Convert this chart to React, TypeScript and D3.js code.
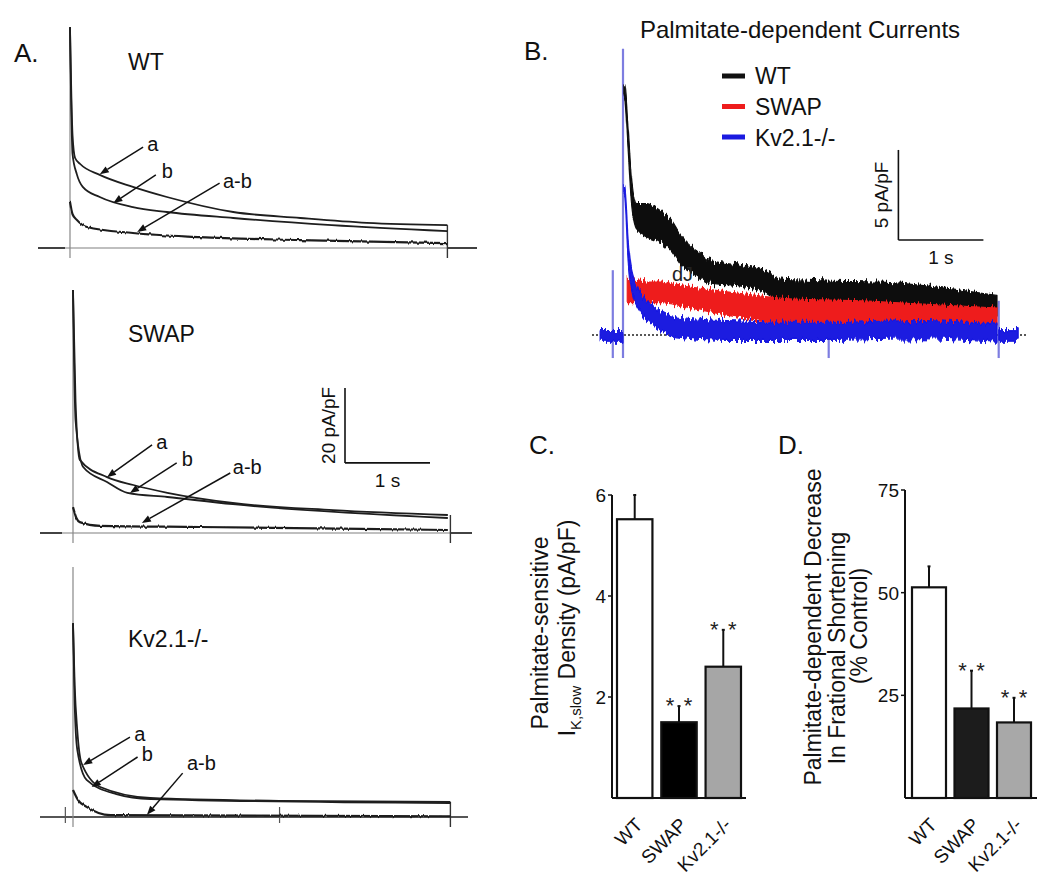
import React from 'react';
import * as d3 from 'd3';

const FONT = '"Liberation Sans", Arial, Helvetica, sans-serif';

// ---------- Panel A data: [time (s), current density (pA/pF)] ----------
const wtTraceA = [[0, 58.9], [0.03, 30], [0.06, 24], [0.12, 22.4], [0.35, 19.5], [0.74, 16.3], [1.14, 13.6], [1.92, 9.6], [2.71, 8.0], [3.49, 6.7], [4.44, 6.1]];
const wtTraceB = [[0, 58.9], [0.03, 25], [0.08, 19.7], [0.15, 16.3], [0.35, 13.6], [0.74, 10.9], [1.14, 9.6], [1.92, 8.0], [3.08, 6.1], [4.44, 4.5]];
const wtTraceAB = [[0, 12.3], [0.03, 9], [0.08, 7.5], [0.2, 5.6], [0.74, 4.0], [1.53, 2.9], [2.71, 2.1], [4.44, 1.3]];

const swapTraceA = [[0, 64.8], [0.03, 35], [0.08, 19.5], [0.4, 14.9], [0.71, 12.8], [1.11, 10.7], [1.88, 8.0], [3.06, 6.1], [4.41, 4.8]];
const swapTraceB = [[0, 64.8], [0.03, 30], [0.12, 17.6], [0.4, 13.6], [0.64, 10.7], [1.11, 9.6], [1.88, 7.7], [4.41, 4.0]];
const swapTraceAB = [[0, 6.9], [0.04, 4], [0.08, 2.9], [0.32, 1.9], [1.49, 1.6], [4.41, 0.8]];

const kvTraceA = [[0, 51.7], [0.02, 35], [0.05, 23.2], [0.1, 14.4], [0.32, 8.0], [0.91, 5.1], [2.45, 4.3], [4.44, 4.0]];
const kvTraceB = [[0, 51.7], [0.02, 30], [0.05, 18], [0.16, 9.9], [0.51, 6.1], [0.91, 4.8], [4.44, 3.7]];
const kvTraceAB = [[0, 7.2], [0.06, 4.5], [0.16, 2.7], [0.44, 0.5], [4.44, 0.2]];

// arrow annotations: text, tail [t, v], tip [t, v], label [t, v]
const wtArrows = [
  { text: 'a', tail: [0.86, 26.9], tip: [0.35, 19.7], label: [0.91, 25.9] },
  { text: 'b', tail: [1.01, 19.5], tip: [0.51, 12.0], label: [1.08, 18.6] },
  { text: 'a-b', tail: [1.76, 17.3], tip: [0.79, 4.3], label: [1.80, 16.0] },
];
const swapArrows = [
  { text: 'a', tail: [0.93, 23.5], tip: [0.4, 14.9], label: [0.98, 22.4] },
  { text: 'b', tail: [1.22, 18.7], tip: [0.67, 10.7], label: [1.28, 17.8] },
  { text: 'a-b', tail: [1.85, 16.0], tip: [0.81, 2.7], label: [1.88, 15.7] },
];
const kvArrows = [
  { text: 'a', tail: [0.67, 21.3], tip: [0.12, 13.9], label: [0.72, 20.3] },
  { text: 'b', tail: [0.76, 16.0], tip: [0.22, 8.0], label: [0.81, 15.0] },
  { text: 'a-b', tail: [1.29, 11.7], tip: [0.87, 0.6], label: [1.34, 12.5] },
];

// ---------- Panel B data: [time (s), lower, upper] (pA/pF) ----------
const bWT = [[0.01, 13.4, 13.9], [0.02, 13.2, 13.9], [0.06, 10.3, 11.5], [0.10, 7.3, 8.7], [0.16, 5.9, 7.3], [0.28, 5.5, 7.3], [0.44, 5.2, 6.9], [0.56, 4.7, 6.4], [0.68, 3.9, 5.5], [0.86, 3.3, 4.7], [1.02, 2.9, 4.2], [1.41, 2.7, 3.9], [1.65, 2.4, 3.6], [1.85, 1.9, 3.1], [2.40, 1.7, 3.0], [3.18, 1.5, 2.9], [3.96, 1.2, 2.5], [4.40, 1.0, 2.2]];
const bSWAP = [[0.05, 1.8, 3.2], [0.28, 1.8, 3.0], [0.45, 1.8, 3.0], [0.6, 1.7, 2.8], [0.9, 1.4, 2.6], [1.22, 1.1, 2.4], [2.0, 0.7, 2.0], [2.79, 0.7, 1.9], [3.58, 0.6, 1.7], [4.40, 0.5, 1.5]];
const bKV = [[0.01, 7.9, 8.3], [0.02, 7.8, 8.3], [0.06, 4.2, 5.3], [0.10, 2.5, 3.6], [0.2, 1.3, 2.4], [0.36, 0.5, 1.6], [0.63, -0.1, 1.0], [1.22, -0.3, 0.8], [2.4, -0.3, 0.7], [3.5, -0.2, 0.8], [4.40, -0.4, 0.6]];
const bKVpre = [[-0.27, -0.35, 0.25], [0.0, -0.35, 0.25]];
const bKVpost = [[4.42, -0.35, 0.3], [4.65, -0.35, 0.3]];
const bMarkers = [[-0.12, 3.6], [0, 15.9], [2.42, -0.1], [4.42, 1.9]]; // [t, top v]
const bLegend = ['WT', 'SWAP', 'Kv2.1-/-'];
const bColors = ['#111111', '#ee1c1c', '#1a1ae0'];

// ---------- Panels C and D ----------
const barCategories = ['WT', 'SWAP', 'Kv2.1-/-'];
const cValues = [5.52, 1.5, 2.6];
const cErrors = [0.48, 0.32, 0.73];
const cTicks = [2, 4, 6];
const dValues = [51.3, 21.8, 18.4];
const dErrors = [5.1, 9.2, 6.0];
const dTicks = [25, 50, 75];
const cSig = [false, true, true];
const dSig = [false, true, true];

type APanelCfg = {
  name: string; x0: number; base: number; axisTop: number; baseL: number; baseR: number;
  darkL: number; darkR: number; nameX: number; nameY: number;
  traces: number[][][]; arrows: any[]; extraTicks: number[];
};

const aPanels: APanelCfg[] = [
  { name: 'WT', x0: 70, base: 248, axisTop: 27, baseL: 38, baseR: 477, darkL: 65, darkR: 447, nameX: 128, nameY: 70, traces: [wtTraceA, wtTraceB, wtTraceAB], arrows: wtArrows, extraTicks: [] },
  { name: 'SWAP', x0: 73, base: 533, axisTop: 290, baseL: 40, baseR: 472, darkL: 62, darkR: 450, nameX: 128, nameY: 342, traces: [swapTraceA, swapTraceB, swapTraceAB], arrows: swapArrows, extraTicks: [] },
  { name: 'Kv2.1-/-', x0: 73, base: 817, axisTop: 567, baseL: 40, baseR: 468, darkL: 40, darkR: 468, nameX: 128, nameY: 647, traces: [kvTraceA, kvTraceB, kvTraceAB], arrows: kvArrows, extraTicks: [-0.09, 2.43] },
];

const A_DUR = 4.44;

function PanelA({ cfg, showScale }: { cfg: APanelCfg; showScale: boolean }) {
  const x = d3.scaleLinear().domain([0, 1]).range([cfg.x0, cfg.x0 + 85]);
  const y = d3.scaleLinear().domain([0, 20]).range([cfg.base, cfg.base - 75]);
  const line = d3.line<number[]>().x(d => x(d[0])).y(d => y(d[1])).curve(d3.curveMonotoneX);
  const endTop = d3.max(cfg.traces, t => t[t.length - 1][1]) as number;
  return (
    <g>
      <line x1={cfg.baseL} x2={cfg.baseR} y1={y(0)} y2={y(0)} stroke="#aaa" strokeWidth={1.3} />
      {cfg.darkL > cfg.baseL && <line x1={cfg.baseL} x2={cfg.darkL} y1={y(0)} y2={y(0)} stroke="#222" strokeWidth={1.6} />}
      {cfg.darkR < cfg.baseR && <line x1={cfg.darkR} x2={cfg.baseR} y1={y(0)} y2={y(0)} stroke="#222" strokeWidth={1.6} />}
      {cfg.darkL === cfg.baseL && <line x1={cfg.baseL} x2={cfg.baseR} y1={y(0)} y2={y(0)} stroke="#333" strokeWidth={1.6} />}
      <line x1={x(0)} x2={x(0)} y1={cfg.axisTop} y2={y(0) + 10} stroke="#888" strokeWidth={1.2} />
      {cfg.extraTicks.map((t, i) => (
        <line key={i} x1={x(t)} x2={x(t)} y1={y(0) - 10} y2={y(0) + 6} stroke="#555" strokeWidth={1.2} />
      ))}
      <line x1={x(A_DUR)} x2={x(A_DUR)} y1={y(endTop)} y2={y(0) + 10} stroke="#333" strokeWidth={1.4} />
      {cfg.traces.map((t, i) => (
        <path key={i} d={line(t as any) || ''} fill="none" stroke="#1e1e1e" strokeWidth={i === 2 ? 2.2 : 1.8}
          filter={i === 2 ? 'url(#fineNoise)' : undefined} />
      ))}
      {cfg.arrows.map((a, i) => {
        const x1 = x(a.tail[0]), y1 = y(a.tail[1]), x2 = x(a.tip[0]), y2 = y(a.tip[1]);
        const ang = Math.atan2(y2 - y1, x2 - x1);
        const L = 9, Wd = 3.5;
        const bx = x2 - L * Math.cos(ang), by = y2 - L * Math.sin(ang);
        const p = `M${x2},${y2} L${bx + Wd * Math.sin(ang)},${by - Wd * Math.cos(ang)} L${bx - Wd * Math.sin(ang)},${by + Wd * Math.cos(ang)} Z`;
        return (
          <g key={i}>
            <line x1={x1} y1={y1} x2={bx} y2={by} stroke="#111" strokeWidth={1.5} />
            <path d={p} fill="#111" />
            <text x={x(a.label[0])} y={y(a.label[1])} fontSize={20} fill="#111">{a.text}</text>
          </g>
        );
      })}
      <text x={cfg.nameX} y={cfg.nameY} fontSize={23} fill="#111">{cfg.name}</text>
      {showScale && (
        <g>
          <line x1={x(3.2)} x2={x(3.2)} y1={y(18.7)} y2={y(38.7)} stroke="#111" strokeWidth={1.6} />
          <line x1={x(3.2)} x2={x(4.2)} y1={y(18.7)} y2={y(18.7)} stroke="#111" strokeWidth={1.6} />
          <text transform={`translate(${x(3.2) - 10},${y(28.7)}) rotate(-90)`} textAnchor="middle" fontSize={19} fill="#111">20 pA/pF</text>
          <text x={x(3.7)} y={y(18.7) + 24} textAnchor="middle" fontSize={19} fill="#111">1 s</text>
        </g>
      )}
    </g>
  );
}

function PanelB() {
  const x = d3.scaleLinear().domain([0, 1]).range([623, 708]);
  const y = d3.scaleLinear().domain([0, 5]).range([335, 245]);
  const area = d3.area<number[]>().x(d => x(d[0])).y0(d => y(d[1])).y1(d => y(d[2])).curve(d3.curveMonotoneX);
  const series = [bWT, bSWAP, bKV];
  return (
    <g>
      <text x={800} y={38} textAnchor="middle" fontSize={24} fill="#111">Palmitate-dependent Currents</text>
      <line x1={592} x2={1028} y1={y(0)} y2={y(0)} stroke="#222" strokeWidth={1.3} strokeDasharray="2,2" />
      {bMarkers.map((m, i) => (
        <line key={i} x1={x(m[0])} x2={x(m[0])} y1={y(m[1])} y2={y(-1.28)} stroke="#7d7de0" strokeWidth={2.2} />
      ))}
      {series.map((s, i) => (
        <path key={i} d={area(s as any) || ''} fill={bColors[i]} stroke={bColors[i]} strokeWidth={1.2}
          strokeLinejoin="round" filter="url(#traceNoise)" />
      ))}
      <path d={area(bKVpre as any) || ''} fill={bColors[2]} stroke={bColors[2]} strokeWidth={1} filter="url(#traceNoise)" />
      <path d={area(bKVpost as any) || ''} fill={bColors[2]} stroke={bColors[2]} strokeWidth={1} filter="url(#traceNoise)" />
      <text x={672} y={281} fontSize={20} fill="#222">dJ</text>
      {bLegend.map((l, i) => (
        <g key={l}>
          <line x1={722} x2={745} y1={76 + i * 30.5} y2={76 + i * 30.5} stroke={bColors[i]} strokeWidth={5} />
          <text x={755} y={84 + i * 31} fontSize={23} fill="#111">{l}</text>
        </g>
      ))}
      <line x1={x(3.24)} x2={x(3.24)} y1={y(5.28)} y2={y(10.28)} stroke="#111" strokeWidth={1.6} />
      <line x1={x(3.24)} x2={x(4.24)} y1={y(5.28)} y2={y(5.28)} stroke="#111" strokeWidth={1.6} />
      <text transform={`translate(${x(3.24) - 10},${y(7.78)}) rotate(-90)`} textAnchor="middle" fontSize={19} fill="#111">5 pA/pF</text>
      <text x={x(3.74)} y={y(5.28) + 24} textAnchor="middle" fontSize={19} fill="#111">1 s</text>
    </g>
  );
}

type BarCfg = {
  values: number[]; errors: number[]; ticks: number[]; sig: boolean[]; domainMax: number;
  yTop: number; yBottom: number; axisX: number; xL: number; xR: number; axisEnd: number;
  fills: string[];
};

function BarPanel({ cfg }: { cfg: BarCfg }) {
  const y = d3.scaleLinear().domain([0, cfg.domainMax]).range([cfg.yBottom, cfg.yTop]);
  const xb = d3.scaleBand().domain(barCategories).range([cfg.xL, cfg.xR]).paddingInner(0.2).paddingOuter(0);
  const bw = xb.bandwidth();
  return (
    <g>
      {barCategories.map((c, i) => {
        const cx = (xb(c) as number) + bw / 2;
        const top = y(cfg.values[i]);
        const et = y(cfg.values[i] + cfg.errors[i]);
        return (
          <g key={c}>
            <line x1={cx} x2={cx} y1={top} y2={et} stroke="#111" strokeWidth={2} />
            <line x1={cx - 1.5} x2={cx + 1.5} y1={et} y2={et} stroke="#111" strokeWidth={2} />
            <rect x={xb(c)} y={top} width={bw} height={y(0) - top} fill={cfg.fills[i]} stroke="#111" strokeWidth={2.2} />
            {cfg.sig[i] && (
              <g>
                <text x={cx - 9} y={et + 7} textAnchor="middle" fontSize={22} fill="#222">*</text>
                <text x={cx + 9} y={et + 7} textAnchor="middle" fontSize={22} fill="#222">*</text>
              </g>
            )}
            <text transform={`translate(${cx + 9},${cfg.yBottom + 28}) rotate(-45)`} textAnchor="end" fontSize={19} fill="#111">{c}</text>
          </g>
        );
      })}
      <line x1={cfg.axisX} x2={cfg.axisX} y1={y(cfg.domainMax)} y2={y(0)} stroke="#111" strokeWidth={2} />
      <line x1={cfg.axisX} x2={cfg.axisEnd} y1={y(0)} y2={y(0)} stroke="#111" strokeWidth={2} />
      {cfg.ticks.map(t => (
        <g key={t}>
          <line x1={cfg.axisX - 4} x2={cfg.axisX} y1={y(t)} y2={y(t)} stroke="#111" strokeWidth={1.5} />
          <text x={cfg.axisX - 6} y={y(t) + 7} textAnchor="end" fontSize={19} fill="#111">{t}</text>
        </g>
      ))}
    </g>
  );
}

const cCfg: BarCfg = {
  values: cValues, errors: cErrors, ticks: cTicks, sig: cSig, domainMax: 6,
  yTop: 495, yBottom: 798, axisX: 612, xL: 617, xR: 741, axisEnd: 746,
  fills: ['#ffffff', '#000000', '#a6a6a6'],
};
const dCfg: BarCfg = {
  values: dValues, errors: dErrors, ticks: dTicks, sig: dSig, domainMax: 75,
  yTop: 490, yBottom: 798, axisX: 905, xL: 912, xR: 1031, axisEnd: 1037,
  fills: ['#ffffff', '#1c1c1c', '#a8a8a8'],
};

export default function App() {
  return (
    <svg width={1050} height={876} style={{ position: 'absolute', left: 0, top: 0, background: '#fff' }} fontFamily={FONT}>
      <defs>
        <filter id="traceNoise" x="-5%" y="-40%" width="110%" height="180%">
          <feTurbulence type="fractalNoise" baseFrequency="0.5 0.01" numOctaves={2} seed={4} result="n" />
          <feColorMatrix in="n" type="matrix" values="0 0 0 0 0.5  0 1 0 0 0  0 0 0 0 0  0 0 0 0 1" result="m" />
          <feDisplacementMap in="SourceGraphic" in2="m" scale={12} xChannelSelector="R" yChannelSelector="G" />
        </filter>
        <filter id="fineNoise" x="-5%" y="-30%" width="110%" height="160%">
          <feTurbulence type="fractalNoise" baseFrequency="0.4 0.01" numOctaves={1} seed={7} result="n" />
          <feColorMatrix in="n" type="matrix" values="0 0 0 0 0.5  0 1 0 0 0  0 0 0 0 0  0 0 0 0 1" result="m" />
          <feDisplacementMap in="SourceGraphic" in2="m" scale={3} xChannelSelector="R" yChannelSelector="G" />
        </filter>
      </defs>
      <rect x={0} y={0} width={1050} height={876} fill="#fff" />
      <text x={14} y={62} fontSize={26} fill="#111">A.</text>
      <text x={524} y={60} fontSize={26} fill="#111">B.</text>
      <text x={529} y={454} fontSize={26} fill="#111">C.</text>
      <text x={778} y={454} fontSize={26} fill="#111">D.</text>
      {aPanels.map((p, i) => <PanelA key={p.name} cfg={p} showScale={i === 1} />)}
      <PanelB />
      <BarPanel cfg={cCfg} />
      <BarPanel cfg={dCfg} />
      <text transform="translate(548,633) rotate(-90)" textAnchor="middle" fontSize={23} fill="#111">Palmitate-sensitive</text>
      <text transform="translate(575,628) rotate(-90)" textAnchor="middle" fontSize={23} fill="#111">
        <tspan>I</tspan><tspan dy={6} fontSize={15}>K,slow</tspan><tspan dy={-6}> Density (pA/pF)</tspan>
      </text>
      <text transform="translate(821,627) rotate(-90)" textAnchor="middle" fontSize={23} fill="#111">Palmitate-dependent Decrease</text>
      <text transform="translate(845,648) rotate(-90)" textAnchor="middle" fontSize={23} fill="#111">In Frational Shortening</text>
      <text transform="translate(867,626) rotate(-90)" textAnchor="middle" fontSize={23} fill="#111">(% Control)</text>
    </svg>
  );
}
